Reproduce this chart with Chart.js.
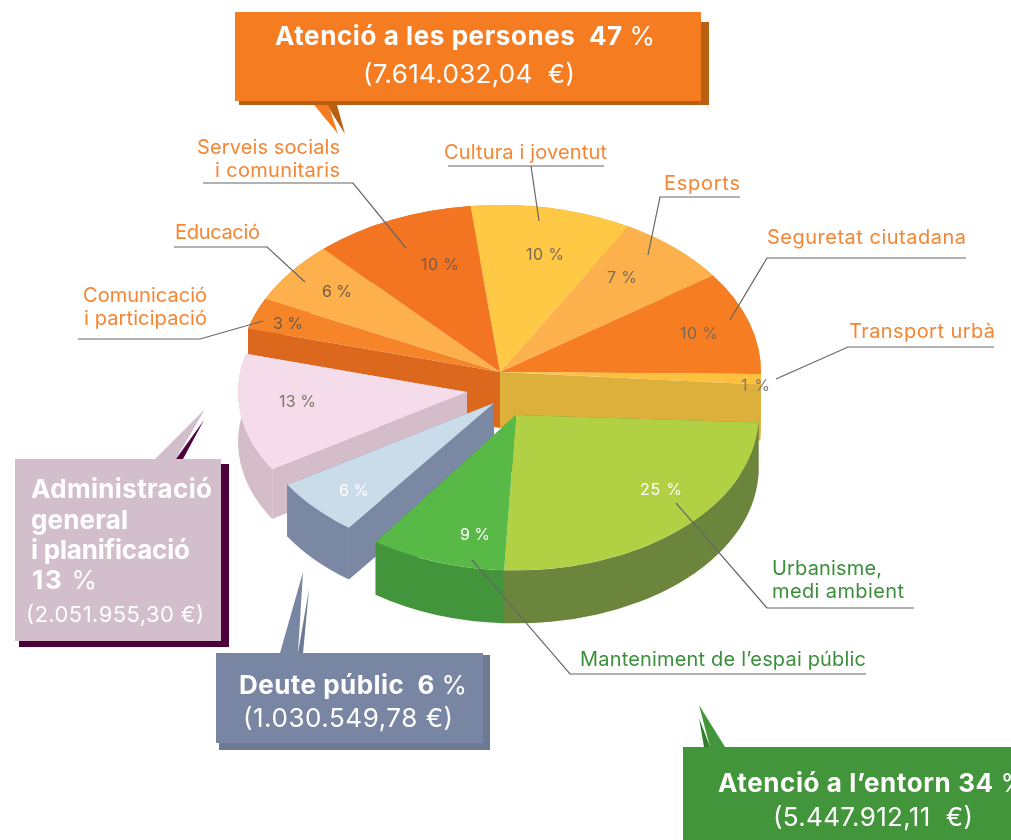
<!DOCTYPE html>
<html>
<head>
<meta charset="utf-8">
<title>Pressupost</title>
<script src="https://cdn.jsdelivr.net/npm/chart.js@4"></script>
<style>
  html, body { margin: 0; padding: 0; background: #fff; overflow: hidden; }
  #wrap { position: relative; width: 1011px; height: 840px; }
  canvas, svg { position: absolute; left: 0; top: 0; }
  text { font-family: Inter, Roboto, sans-serif; white-space: pre; }
</style>
</head>
<body>
<div id="wrap">
  <canvas id="pie" width="1011" height="840"></canvas>
  <svg id="notes" width="1011" height="840"></svg>
</div>
<script>
// slices clockwise, starting at Cultura
var categories = ["Cultura i joventut", "Esports", "Seguretat ciutadana", "Transport urbà", "Urbanisme, medi ambient",
  "Manteniment de l’espai públic", "Deute públic", "Administració general i planificació", "Comunicació i participació",
  "Educació", "Serveis socials i comunitaris"];
var percents = [10, 7, 10, 1, 25, 9, 6, 13, 3, 6, 10];

var sliceColors = ["#ffc845", "#fdb14d", "#f67d22", "#ffc040", "#b2d043", "#58b947", "#cadbea", "#f5dcea", "#f68428", "#fdb04c", "#f37522"];
var wallColors = ["#ddb03b", "#ddb03b", "#ddb03b", "#ddb03b", "#6b853c", "#43953b", "#7a88a3", "#d4bdc9", "#db681c", "#db681c", "#db681c"];

// which piece of the exploded pie each slice sits on, back piece first
var slicePiece = [0, 0, 0, 0, 3, 3, 2, 1, 0, 0, 0];
var pieces = [
  { x: 500, y: 372, scale: 1, depth: 56, turn: 0 },
  { x: 467, y: 392, scale: 0.877, depth: 50, turn: 0 },
  { x: 494, y: 403, scale: 0.93, depth: 52, turn: 0 },
  { x: 516, y: 415, scale: 0.93, depth: 53, turn: -1.5 }
];
var squash = 0.64;

function drawWalls(ctx, arcs, i, p) {
  var a = arcs[i];
  var n = arcs.length;
  var turn = pieces[p].turn * Math.PI / 180;
  var start = a.startAngle + turn;
  var end = a.endAngle + turn;
  var D = pieces[p].depth / (pieces[p].scale * squash);
  var cutWall = function (angle) {
    var ex = a.x + a.outerRadius * Math.cos(angle);
    var ey = a.y + a.outerRadius * Math.sin(angle);
    ctx.beginPath();
    ctx.moveTo(a.x, a.y);
    ctx.lineTo(ex, ey);
    ctx.lineTo(ex, ey + D);
    ctx.lineTo(a.x, a.y + D);
    ctx.closePath();
    ctx.fill();
  };
  ctx.fillStyle = wallColors[i];
  ctx.beginPath();
  ctx.arc(a.x, a.y, a.outerRadius, start, end + 0.003);
  ctx.arc(a.x, a.y + D, a.outerRadius, end + 0.003, start, true);
  ctx.closePath();
  ctx.fill();
  // only the edges where the piece was cut away from its neighbours show a wall
  if (slicePiece[(i + n - 1) % n] !== p) cutWall(start);
  if (slicePiece[(i + 1) % n] !== p) cutWall(end);
}

var tiltedPie = {
  id: "tiltedPie",
  beforeDatasetDraw: function (chart) {
    var ctx = chart.ctx;
    var arcs = chart.getDatasetMeta(0).data;
    pieces.forEach(function (piece, p) {
      var place = function (a, turn) {
        ctx.translate(piece.x, piece.y);
        ctx.scale(piece.scale, piece.scale * squash);
        ctx.rotate(turn);
        ctx.translate(-a.x, -a.y);
      };
      arcs.forEach(function (a, i) {
        if (slicePiece[i] !== p) return;
        ctx.save();
        // walls hang straight down, so the turn goes into their angles instead
        place(a, 0);
        drawWalls(ctx, arcs, i, p);
        ctx.restore();
      });
      arcs.forEach(function (a, i) {
        if (slicePiece[i] !== p) return;
        ctx.save();
        place(a, piece.turn * Math.PI / 180);
        a.draw(ctx);
        ctx.restore();
      });
    });
    return false;
  }
};

new Chart(document.getElementById("pie"), {
  type: "pie",
  data: {
    labels: categories,
    datasets: [{ data: percents, backgroundColor: sliceColors, borderWidth: 0 }]
  },
  options: {
    responsive: false,
    animation: false,
    rotation: -6.5,
    radius: 261,
    plugins: { legend: { display: false }, tooltip: { enabled: false } }
  },
  plugins: [tiltedPie]
});

// ---- callouts, leaders and text ----
var svg = document.getElementById("notes");
var NS = "http://www.w3.org/2000/svg";

function el(name, attrs, parent) {
  var e = document.createElementNS(NS, name);
  for (var k in attrs) e.setAttribute(k, attrs[k]);
  (parent || svg).appendChild(e);
  return e;
}
function box(x1, y1, x2, y2, color) {
  el("rect", { x: x1, y: y1, width: x2 - x1, height: y2 - y1, fill: color });
}
function tail(points, color) {
  el("polygon", { points: points, fill: color });
}
function leader(points) {
  el("polyline", { points: points, fill: "none", stroke: "#666", "stroke-width": 1.2 });
}
// x1-x2 is the width the text has to fill
function label(str, x1, x2, base, size, weight, color) {
  var t = el("text", { x: x1, y: base, textLength: x2 - x1, lengthAdjust: "spacing", "font-size": size, "font-weight": weight, fill: color });
  if (weight >= 600 && /%$/.test(str)) {
    t.appendChild(document.createTextNode(str.slice(0, -1)));
    el("tspan", { "font-weight": 400 }, t).textContent = "%";
  } else {
    t.textContent = str;
  }
}

// green
tail("699,705 710,747 725,747", "#43953b");
tail("699,718 704,747 710,747", "#2e7d2b");
box(683, 747, 1011, 840, "#43953b");
// blue
tail("280,653 303,572 298,653", "#7886a3");
tail("298,653 309,589 303,653", "#6c7a94");
box(219, 655, 490, 750, "#6c7a94");
box(216, 653, 483, 743, "#7886a3");
// pink
tail("155,459 205,409 176,459", "#d3bfcb");
tail("176,459 204,420 183,459", "#4d003a");
box(19, 464, 229, 647, "#4d003a");
box(15, 459, 221, 641, "#d3bfcb");
// orange
tail("327,105 345,134 337,105", "#b85f12");
tail("311,101 338,134 327,101", "#f57c20");
box(239, 22, 709, 105, "#b85f12");
box(235, 12, 701, 101, "#f57c20");

leader("203,183 353,183 406,248");
leader("448,166 604,166");
leader("531,166 539,221");
leader("740,197 660,197 648,255");
leader("966,258 767,258 730,320");
leader("994,347 848,347 776,379");
leader("174,247 267,247 305,282");
leader("78,339 200,339 263,321");
leader("914,608 767,608 676,503");
leader("866,674 570,674 472,560");

var orangeText = "#f58634", greenText = "#3a8f3a";
label("Serveis socials", 197, 340, 154, 20, 400, orangeText);
label("i comunitaris", 215, 340, 177, 20, 400, orangeText);
label("Cultura i joventut", 444, 607, 159, 20, 400, orangeText);
label("Esports", 664, 740, 190, 20, 400, orangeText);
label("Seguretat ciutadana", 767, 966, 244, 20, 400, orangeText);
label("Transport urbà", 849, 995, 338, 20, 400, orangeText);
label("Educació", 175, 260, 239, 20, 400, orangeText);
label("Comunicació", 83, 207, 302, 20, 400, orangeText);
label("i participació", 84, 207, 325, 20, 400, orangeText);
label("Urbanisme,", 772, 882, 575, 20, 400, greenText);
label("medi ambient", 772, 904, 598, 20, 400, greenText);
label("Manteniment de l’espai públic", 580, 866, 666, 20, 400, greenText);

// percent text on the slices, same order as percents
var pctX = [[526, 564], [607, 637], [680, 718], [741, 770], [640, 682], [460, 490], [339, 369], [279, 316], [273, 303], [322, 352], [421, 459]];
var pctBase = [260, 283, 339, 391, 495, 540, 496, 407, 329, 297, 270];
var pctColors = ["#7a6a55", "#7a6a55", "#7a6a55", "#777", "#fff", "#fff", "#fff", "#8a6f60", "#6f5a48", "#6f5a48", "#7a5a48"];
percents.forEach(function (v, i) {
  label(v + " %", pctX[i][0], pctX[i][1], pctBase[i], 16, 400, pctColors[i]);
});

label("Atenció a les persones  47 %", 275, 655, 45, 26, 700, "#fff");
label("(7.614.032,04  €)", 363, 575, 83, 26, 400, "#fff");
label("Administració", 31, 212, 498, 26, 700, "#fff");
label("general", 31, 128, 529, 26, 700, "#fff");
label("i planificació", 31, 190, 559, 26, 700, "#fff");
label("13 %", 32, 97, 589, 26, 700, "#fff");
label("(2.051.955,30 €)", 26, 204, 622, 22, 400, "#fff");
label("Deute públic  6 %", 239, 467, 694, 26, 700, "#fff");
label("(1.030.549,78 €)", 243, 453, 727, 26, 400, "#fff");
label("Atenció a l’entorn 34 %", 718, 1026, 792, 26, 700, "#fff");
label("(5.447.912,11  €)", 773, 973, 826, 26, 400, "#fff");
</script>
</body>
</html>
